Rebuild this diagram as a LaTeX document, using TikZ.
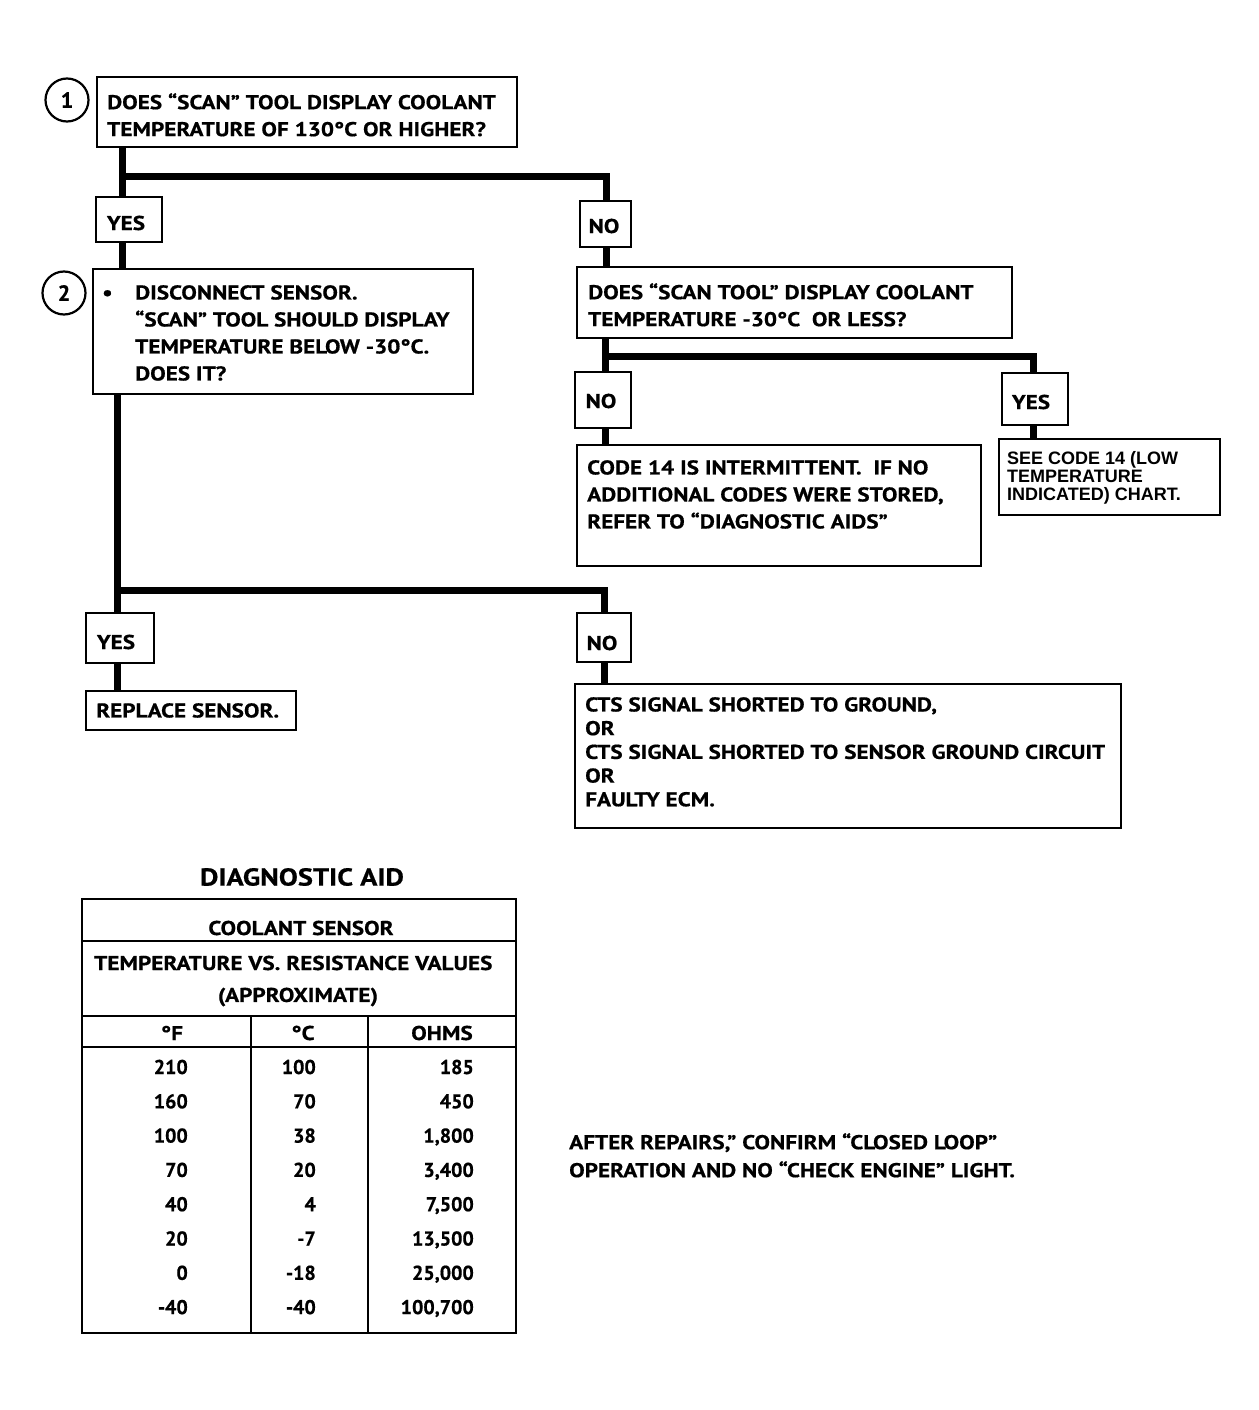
\documentclass[tikz,border=0pt]{standalone}
\usepackage{fontspec}
\setmainfont{PT Sans}[BoldFeatures={FakeStretch=1.16,FakeBold=0.6}]
\newfontfamily\plainpt{PT Sans}[BoldFeatures={FakeBold=0.6}]
\newfontfamily\helv{Liberation Sans}
\begin{document}
\begin{tikzpicture}[x=1pt,y=-1pt,
  box/.style={draw, line width=2.2pt, fill=white, inner sep=0pt, anchor=north west},
  lbl/.style={box},
  txt/.style={inner sep=0pt, anchor=north west, align=left, font=\bfseries\fontsize{20}{27}\selectfont},
  conn/.style={line width=7pt, line join=miter},
  num/.style={circle, draw, line width=2.2pt, minimum size=43pt, inner sep=0pt, font=\plainpt\bfseries\fontsize{22}{24}\selectfont},
  tline/.style={line width=2.6pt},
  cell/.style={inner sep=0pt, font=\bfseries\fontsize{20}{24}\selectfont},
  dat/.style={inner sep=0pt, anchor=base east, font=\plainpt\bfseries\fontsize{20}{24}\selectfont}]
\useasboundingbox[fill=white] (0,0) rectangle (1258,1410);

% trunk coordinates
\coordinate (t1) at (122,0);
\coordinate (t2) at (606,0);
\coordinate (t3) at (605,0);
\coordinate (t4) at (1033,0);
\coordinate (t5) at (117,0);
\coordinate (t6) at (604,0);
\coordinate (br1) at (0,176);
\coordinate (br3) at (0,356);
\coordinate (br2) at (0,590);

% boxes
\node[box, minimum width=420pt, minimum height=70pt] (b1) at (96,76) {};
\node[txt] at (107,93) {DOES “SCAN” TOOL DISPLAY COOLANT\\TEMPERATURE OF 130°C OR HIGHER?};
\node[num] (c1) at (67,100) {1};

\node[lbl, minimum width=66pt, minimum height=45pt] (yes1) at (95,196) {};
\node[cell] at (126,223) {YES};
\node[lbl, minimum width=51pt, minimum height=46pt] (no1) at (579,200) {};
\node[cell] at (604,226) {NO};

\node[box, minimum width=380pt, minimum height=125pt] (b2) at (92,268) {};
\node[num] (c2) at (64,293) {2};
\node[txt] at (102,285) {\makebox[33pt][l]{\textbullet}DISCONNECT SENSOR.\\\hspace*{33pt}“SCAN” TOOL SHOULD DISPLAY\\\hspace*{33pt}TEMPERATURE BELOW -30°C.\\\hspace*{33pt}DOES IT?};

\node[box, minimum width=435pt, minimum height=71pt] (b3) at (576,266) {};
\node[txt] at (588,283) {DOES “SCAN TOOL” DISPLAY COOLANT\\TEMPERATURE -30°C\ \ OR LESS?};

\node[lbl, minimum width=56pt, minimum height=56pt] (no2) at (574,371) {};
\node[cell] at (601,401) {NO};
\node[lbl, minimum width=66pt, minimum height=52pt] (yes2) at (1001,372) {};
\node[cell] at (1031,402) {YES};

\node[box, minimum width=404pt, minimum height=121pt] (b4) at (576,444) {};
\node[txt] at (587,460) {CODE 14 IS INTERMITTENT.\ \ IF NO\\ADDITIONAL CODES WERE STORED,\\REFER TO “DIAGNOSTIC AIDS”};

\node[box, minimum width=221pt, minimum height=76pt] (b5) at (998,438) {};
\node[txt, font=\helv\bfseries\fontsize{18}{18}\selectfont] at (1007,451) {SEE CODE 14 (LOW\\TEMPERATURE\\INDICATED) CHART.};

\node[lbl, minimum width=68pt, minimum height=50pt] (yes3) at (85,612) {};
\node[cell] at (116,642) {YES};
\node[box, minimum width=210pt, minimum height=39pt] (rep) at (85,690) {};
\node[txt] at (96,703) {REPLACE SENSOR.};

\node[lbl, minimum width=54pt, minimum height=49pt] (no3) at (576,612) {};
\node[cell] at (602,643) {NO};
\node[box, minimum width=546pt, minimum height=144pt] (b6) at (574,683) {};
\node[txt, font=\bfseries\fontsize{20}{23.7}\selectfont] at (585,697) {CTS SIGNAL SHORTED TO GROUND,\\OR\\CTS SIGNAL SHORTED TO SENSOR GROUND CIRCUIT\\OR\\FAULTY ECM.};

% connectors
\draw[conn] (b1.south -| t1) -- (yes1.north -| t1);
\draw[conn] (t1 |- br1) -| (no1.north -| t2);
\draw[conn] (yes1.south -| t1) -- (b2.north -| t1);
\draw[conn] (no1.south -| t2) -- (b3.north -| t2);
\draw[conn] (b3.south -| t3) -- (no2.north -| t3);
\draw[conn] (t3 |- br3) -| (yes2.north -| t4);
\draw[conn] (no2.south -| t3) -- (b4.north -| t3);
\draw[conn] (yes2.south -| t4) -- (b5.north -| t4);
\draw[conn] (b2.south -| t5) -- (yes3.north -| t5);
\draw[conn] (t5 |- br2) -| (no3.north -| t6);
\draw[conn] (yes3.south -| t5) -- (rep.north -| t5);
\draw[conn] (no3.south -| t6) -- (b6.north -| t6);

% diagnostic aid table
\node[cell, font=\bfseries\fontsize{24.5}{28}\selectfont] (title) at (302,877) {DIAGNOSTIC AID};
\draw[tline] (82,899) rectangle (516,1333);
\draw[tline] (82,941) -- (516,941);
\draw[tline] (82,1016) -- (516,1016);
\draw[tline] (82,1047) -- (516,1047);
\draw[tline] (251,1016) -- (251,1333);
\draw[tline] (368,1016) -- (368,1333);
\node[cell] (h1) at (301,928) {COOLANT SENSOR};
\node[cell, anchor=west] (h2) at (94,963) {TEMPERATURE VS. RESISTANCE VALUES};
\node[cell] (h3) at (298,997) {(APPROXIMATE)};
\node[cell] (hf) at (172,1033) {°F};
\node[cell] (hc) at (303,1033) {°C};
\node[cell] (ho) at (442,1033) {OHMS};
\foreach \f/\c/\o [count=\i from 0] in {210/100/185,160/70/450,100/38/{1,800},70/20/{3,400},40/4/{7,500},20/-7/{13,500},0/-18/{25,000},-40/-40/{100,700}}{
  \node[dat] (f\i) at (188,1074+34.3*\i) {\f};
  \node[dat] (c\i) at (316,1074+34.3*\i) {\c};
  \node[dat] (o\i) at (474,1074+34.3*\i) {\o};
}

\node[txt, font=\bfseries\fontsize{20}{28}\selectfont] (note) at (569,1133) {AFTER REPAIRS,” CONFIRM “CLOSED LOOP”\\OPERATION AND NO “CHECK ENGINE” LIGHT.};
\end{tikzpicture}
\end{document}
